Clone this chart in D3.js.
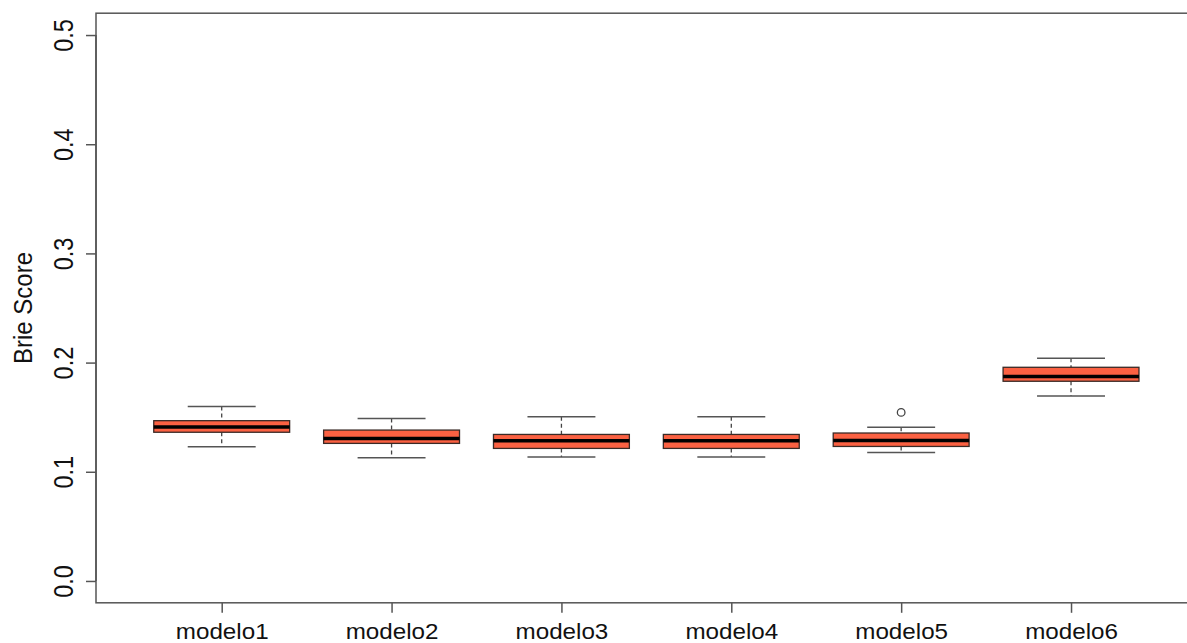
<!DOCTYPE html>
<html>
<head>
<meta charset="utf-8">
<script src="https://cdn.jsdelivr.net/npm/d3@7"></script>
<style>
  html, body { margin: 0; padding: 0; background: #fff; }
  svg { display: block; }
  text { font-family: "Liberation Sans", Arial, Helvetica, sans-serif; fill: #111; }
</style>
</head>
<body>
<svg id="chart" width="1187" height="643"></svg>
<script>
// Brier score distribution per model (box-plot five-number summaries)
const categories = ["modelo1", "modelo2", "modelo3", "modelo4", "modelo5", "modelo6"];
const whiskerLow  = [0.1229, 0.1128, 0.1135, 0.1135, 0.1177, 0.1694];
const q1          = [0.1362, 0.1260, 0.1214, 0.1214, 0.1232, 0.1829];
const median      = [0.1410, 0.1305, 0.1284, 0.1284, 0.1287, 0.1872];
const q3          = [0.1468, 0.1382, 0.1342, 0.1342, 0.1355, 0.1957];
const whiskerHigh = [0.1599, 0.1489, 0.1505, 0.1505, 0.1407, 0.2039];
const outliers    = [[], [], [], [], [0.1544], []];
const yTicks      = [0.0, 0.1, 0.2, 0.3, 0.4, 0.5];
const yLabel = "Brie Score";

const svg = d3.select("#chart");

// plotting region (right edge runs past the page)
const plotLeft = 96, plotTop = 13.2, plotBottom = 602.8;
const slot = 169.9;                       // px per box slot
const firstCenter = 221.5;
const plotRight = firstCenter + (categories.length - 1) * slot + 0.74 * slot;

const y = d3.scaleLinear().domain([-0.02, 0.52]).range([plotBottom, plotTop]);
const x = d3.scaleLinear()
  .domain([0.26, categories.length + 0.74])
  .range([plotLeft, plotRight]);

const data = categories.map((c, i) => ({
  name: c, pos: i + 1,
  lo: whiskerLow[i], q1: q1[i], med: median[i], q3: q3[i], hi: whiskerHigh[i],
  out: outliers[i]
}));

const boxHalf = 0.4, capHalf = 0.2;

// frame
svg.append("rect")
  .attr("x", plotLeft).attr("y", plotTop)
  .attr("width", plotRight - plotLeft).attr("height", plotBottom - plotTop)
  .attr("fill", "none").attr("stroke", "#555").attr("stroke-width", 1.5);

const g = svg.append("g");

const boxes = g.selectAll("g.box").data(data).join("g").attr("class", "box");

// whisker stems (dashed)
boxes.append("line")
  .attr("x1", d => x(d.pos)).attr("x2", d => x(d.pos))
  .attr("y1", d => y(d.hi)).attr("y2", d => y(d.q3))
  .attr("stroke", "#444").attr("stroke-width", 1.3).attr("stroke-dasharray", "4,3");
boxes.append("line")
  .attr("x1", d => x(d.pos)).attr("x2", d => x(d.pos))
  .attr("y1", d => y(d.q1)).attr("y2", d => y(d.lo))
  .attr("stroke", "#444").attr("stroke-width", 1.3).attr("stroke-dasharray", "4,3");

// whisker caps
["hi", "lo"].forEach(k => {
  boxes.append("line")
    .attr("x1", d => x(d.pos - capHalf)).attr("x2", d => x(d.pos + capHalf))
    .attr("y1", d => y(d[k])).attr("y2", d => y(d[k]))
    .attr("stroke", "#555").attr("stroke-width", 1.5);
});

// boxes
boxes.append("rect")
  .attr("x", d => x(d.pos - boxHalf))
  .attr("width", d => x(d.pos + boxHalf) - x(d.pos - boxHalf))
  .attr("y", d => y(d.q3))
  .attr("height", d => y(d.q1) - y(d.q3))
  .attr("fill", "#fb6142").attr("stroke", "#3a2a26").attr("stroke-width", 1.3);

// medians
boxes.append("line")
  .attr("x1", d => x(d.pos - boxHalf)).attr("x2", d => x(d.pos + boxHalf))
  .attr("y1", d => y(d.med)).attr("y2", d => y(d.med))
  .attr("stroke", "#000").attr("stroke-width", 3.5);

// outliers
boxes.selectAll("circle").data(d => d.out.map(v => ({ pos: d.pos, v })))
  .join("circle")
  .attr("cx", d => x(d.pos)).attr("cy", d => y(d.v)).attr("r", 3.8)
  .attr("fill", "none").attr("stroke", "#444").attr("stroke-width", 1.3);

// y axis
const yAxis = d3.axisLeft(y).tickValues(yTicks).tickFormat(d3.format(".1f"))
  .tickSize(10).tickSizeOuter(0);
const ya = svg.append("g").attr("transform", `translate(${plotLeft},0)`).call(yAxis);
ya.select(".domain").attr("stroke", "#555").attr("stroke-width", 1.5)
  .attr("d", `M0,${y(0)}V${y(0.5)}`);
ya.selectAll(".tick line").attr("stroke", "#555").attr("stroke-width", 1.5);
ya.selectAll(".tick text")
  .attr("x", 0).attr("dy", null)
  .attr("transform", "translate(-33,0) rotate(-90) scale(1,1.15)")
  .attr("text-anchor", "middle").attr("dominant-baseline", "central")
  .style("font-size", "23.5px").style("fill", "#111");

// x axis
const xAxis = d3.axisBottom(x).tickValues(data.map(d => d.pos))
  .tickFormat((d, i) => categories[i]).tickSize(10).tickSizeOuter(0);
const xa = svg.append("g").attr("transform", `translate(0,${plotBottom})`).call(xAxis);
xa.select(".domain").remove();
xa.selectAll(".tick line").attr("stroke", "#555").attr("stroke-width", 1.5);
xa.selectAll(".tick text")
  .attr("y", 0).attr("dy", null)
  .attr("transform", "translate(0,36) scale(1.1,1)")
  .attr("text-anchor", "middle")
  .style("font-size", "22px").style("fill", "#111");

// y axis title
svg.append("text")
  .attr("transform", `translate(23,${(plotTop + plotBottom) / 2}) rotate(-90) scale(1,1.05)`)
  .attr("text-anchor", "middle").attr("dominant-baseline", "central")
  .style("font-size", "24px")
  .text(yLabel);
</script>
</body>
</html>
